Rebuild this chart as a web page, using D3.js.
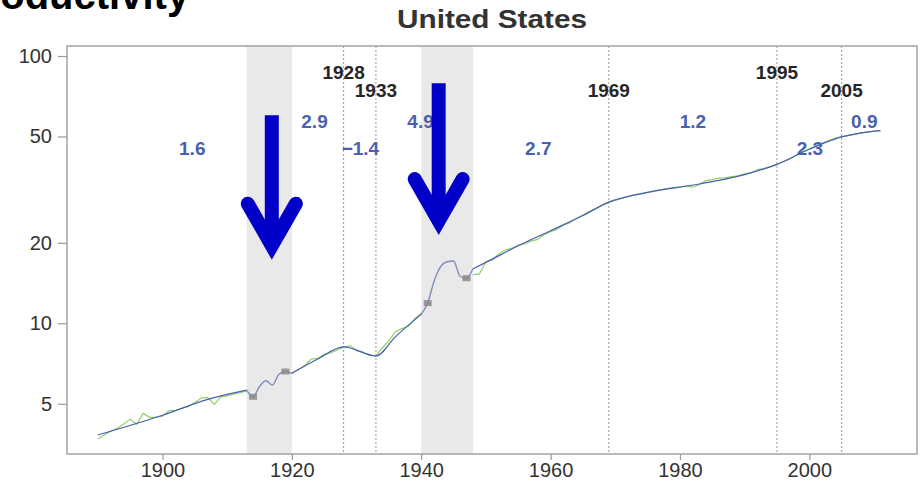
<!DOCTYPE html>
<html><head><meta charset="utf-8">
<script src="https://cdn.jsdelivr.net/npm/d3@7"></script>
<style>
html,body{margin:0;padding:0;background:#fff;}
svg{display:block;font-family:"Liberation Sans",Arial,sans-serif;}
</style></head>
<body><svg id="c" width="920" height="483"></svg>
<script>
// ---- data ----
const yTicks = [5, 10, 20, 50, 100];
const xTicks = [1900, 1920, 1940, 1960, 1980, 2000];
const bands = [[1913, 1920], [1940, 1948]];
const breakYears = [1928, 1933, 1969, 1995, 2005];
const breakLabelRow = [0, 1, 1, 0, 1];
const growthLabels = ["1.6", "2.9", "\u22121.4", "4.9", "2.7", "1.2", "2.3", "0.9"];
const growthYears = [1904.6, 1923.5, 1930.6, 1939.9, 1958.1, 1982.0, 2000.1, 2008.5];
const growthRow = [1, 0, 1, 0, 1, 0, 1, 0];

// actual (annual) series - green
const actYears1 = [1890,1891,1892,1893,1894,1895,1896,1897,1898,1899,1900,1901,1902,1903,1904,1905,1906,1907,1908,1909,1910,1911,1912,1913];
const actVals1  = [3.69,3.82,3.95,4.05,4.20,4.38,4.19,4.60,4.45,4.45,4.49,4.71,4.72,4.81,4.88,5.05,5.25,5.28,4.97,5.30,5.35,5.44,5.50,5.59];
const actYears2 = [1920,1921,1922,1923,1924,1925,1926,1927,1928,1929,1930,1931,1932,1933,1934,1935,1936,1937,1938,1939,1940];
const actVals2  = [6.50,6.72,6.95,7.35,7.40,7.65,7.75,7.95,8.13,8.25,7.90,7.80,7.60,7.54,8.10,8.60,9.30,9.55,9.75,10.4,10.9];
const actYears3 = [1948,1949,1950,1951,1952,1953,1954,1955,1956,1957,1958,1959,1960,1961,1962,1963,1964,1965,1966,1967,1968,1969,1970,1971,1972,1973,1974,1975,1976,1977,1978,1979,1980,1981,1982,1983,1984,1985,1986,1987,1988,1989,1990,1991,1992,1993,1994,1995,1996,1997,1998,1999,2000,2001,2002,2003,2004,2005,2006,2007,2008,2009,2010,2011];
const actVals3  = [15.2,15.3,17.0,17.3,18.2,18.8,19.1,19.6,19.8,20.3,20.6,21.5,22.0,22.5,23.3,23.8,24.7,25.4,26.2,26.9,27.7,28.4,28.8,29.3,29.8,30.3,30.5,30.9,31.3,31.6,31.9,32.2,32.4,32.6,32.3,33.0,34.2,34.5,34.9,35.0,35.4,35.6,36.2,36.6,37.6,38.0,38.6,39.3,40.3,41.2,42.6,43.8,45.0,46.0,47.2,48.3,49.3,49.9,50.4,50.9,51.5,52.0,52.3,52.6];

// trend series - blue
const trendYears1 = [1890, 1900, 1907, 1913];
const trendVals1  = [3.82, 4.53, 5.19, 5.62];
const trendYears2 = [1920, 1924, 1928, 1933, 1936, 1940];
const trendVals2  = [6.50, 7.35, 8.16, 7.55, 8.90, 10.8];
const trendYears3 = [1948, 1950, 1955, 1960, 1965, 1969, 1975, 1983, 1990, 1995, 2000, 2005, 2008, 2011];
const trendVals3  = [16.0, 16.9, 19.5, 22.2, 25.3, 28.4, 30.9, 33.2, 36.0, 39.3, 44.8, 49.8, 51.6, 52.6];

// war periods - grey-blue
const warYears1 = [1913, 1914, 1915, 1916, 1917, 1918, 1919, 1920];
const warVals1  = [5.62, 5.31, 5.80, 6.10, 5.87, 6.45, 6.60, 6.50];
const warYears2 = [1940, 1941, 1942, 1943, 1944, 1945, 1946, 1947, 1948];
const warVals2  = [10.8, 11.9, 14.4, 16.3, 17.0, 17.1, 15.0, 14.75, 16.0];
const markYears = [1914, 1919, 1941, 1947];
const markVals  = [5.31, 6.60, 11.9, 14.75];

// arrows: year position, top value, tip value
const arrowYears = [1916.9, 1942.7];
const arrowTop = [60, 79];
const arrowTip = [17.3, 21.4];

// ---- drawing ----
const svg = d3.select("#c");
const L = 67, R = 917, T = 46, B = 454;
const x = d3.scaleLinear().domain([1900, 2000]).range([162.5, 809.3]);
const y = d3.scaleLog().domain([10, 100]).range([323.3, 56]);

// slide heading (cut off at the top, as in the source)
svg.append("text").attr("x", -42).attr("y", 9)
  .attr("font-size", 40).attr("font-weight", "bold").attr("fill", "#000")
  .text("Productivity");

// title
svg.append("text").attr("x", 492).attr("y", 28).attr("text-anchor", "middle")
  .attr("font-size", 26).attr("font-weight", "bold").attr("fill", "#333")
  .attr("textLength", 190).attr("lengthAdjust", "spacingAndGlyphs")
  .text("United States");

// bands
svg.append("g").selectAll("rect").data(bands).join("rect")
  .attr("x", d => x(d[0])).attr("width", d => x(d[1]) - x(d[0]))
  .attr("y", T).attr("height", B - T).attr("fill", "#e9e9e9");

// break lines
svg.append("g").selectAll("line").data(breakYears).join("line")
  .attr("x1", d => x(d)).attr("x2", d => x(d)).attr("y1", T).attr("y2", B)
  .attr("stroke", "#999").attr("stroke-width", 1).attr("stroke-dasharray", "2,2");

// frame
svg.append("rect").attr("x", L).attr("y", T).attr("width", R - L).attr("height", B - T)
  .attr("fill", "none").attr("stroke", "#a3a3a3").attr("stroke-width", 1.5);

// axes
const ya = svg.append("g").attr("transform", `translate(${L},0)`)
  .call(d3.axisLeft(y).tickValues(yTicks).tickFormat(d3.format("d")).tickSize(9).tickPadding(6));
const xa = svg.append("g").attr("transform", `translate(0,${B})`)
  .call(d3.axisBottom(x).tickValues(xTicks).tickFormat(d3.format("d")).tickSize(6).tickPadding(3));
[ya, xa].forEach(a => {
  a.select(".domain").remove();
  a.selectAll("line").attr("stroke", "#999").attr("stroke-width", 1.2);
  a.selectAll("text").attr("font-size", 20).attr("fill", "#333")
    .attr("font-family", "'Liberation Sans',Arial,sans-serif");
});

// lines
const line = d3.line().x(d => x(d[0])).y(d => y(d[1]));
const smooth = d3.line().x(d => x(d[0])).y(d => y(d[1])).curve(d3.curveMonotoneX);
const zip = (a, b) => a.map((v, i) => [v, b[i]]);

[[actYears1, actVals1], [actYears2, actVals2], [actYears3, actVals3]].forEach(([a, b]) => {
  svg.append("path").attr("d", line(zip(a, b))).attr("fill", "none")
    .attr("stroke", "#8fd16a").attr("stroke-width", 1.2);
});
[[warYears1, warVals1], [warYears2, warVals2]].forEach(([a, b]) => {
  svg.append("path").attr("d", smooth(zip(a, b))).attr("fill", "none")
    .attr("stroke", "#7f8cc4").attr("stroke-width", 1.4);
});
[[trendYears1, trendVals1], [trendYears2, trendVals2], [trendYears3, trendVals3]].forEach(([a, b]) => {
  svg.append("path").attr("d", smooth(zip(a, b))).attr("fill", "none")
    .attr("stroke", "#4a5db0").attr("stroke-width", 1.2);
});
svg.append("g").selectAll("rect").data(zip(markYears, markVals)).join("rect")
  .attr("x", d => x(d[0]) - 4).attr("y", d => y(d[1]) - 3)
  .attr("width", 8).attr("height", 6).attr("fill", "#8a8a8a").attr("opacity", 0.85);

// break-year labels
svg.append("g").selectAll("text").data(breakYears).join("text")
  .attr("x", d => x(d)).attr("y", (d, i) => breakLabelRow[i] ? 96.5 : 79)
  .attr("text-anchor", "middle").attr("font-size", 19).attr("font-weight", "bold")
  .attr("fill", "#262626").text(d => d);

// growth labels
svg.append("g").selectAll("text").data(growthLabels).join("text")
  .attr("x", (d, i) => x(growthYears[i])).attr("y", (d, i) => growthRow[i] ? 154.5 : 127.5)
  .attr("text-anchor", "middle").attr("font-size", 19).attr("font-weight", "bold")
  .attr("fill", "#4a60b3").text(d => d);

// arrows
arrowYears.forEach((yr, i) => {
  const cx = x(yr), top = y(arrowTop[i]), tip = y(arrowTip[i]);
  const vy = tip - 14;
  const g = svg.append("g").attr("stroke", "#0000c8").attr("fill", "none").attr("stroke-width", 14);
  g.append("line").attr("x1", cx).attr("x2", cx).attr("y1", top).attr("y2", vy - 4);
  g.append("path").attr("d", `M${cx - 24},${vy - 42}L${cx},${vy}L${cx + 24},${vy - 42}`)
    .attr("stroke-linecap", "round").attr("stroke-linejoin", "miter").attr("stroke-miterlimit", 10);
});
</script></body></html>
